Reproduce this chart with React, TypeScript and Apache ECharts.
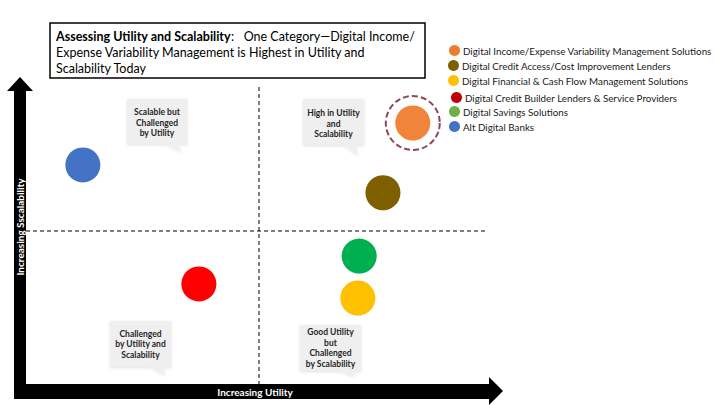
import React, { useEffect, useRef } from "react";
import * as echarts from "echarts";

// ---- data ----
const categories = [
  "Digital Income/Expense Variability Management Solutions",
  "Digital Credit Access/Cost Improvement Lenders",
  "Digital Financial & Cash Flow Management Solutions",
  "Digital Credit Builder Lenders & Service Providers",
  "Digital Savings Solutions",
  "Alt Digital Banks",
];
const utility = [8.3, 7.66, 7.12, 3.71, 7.15, 1.22];
const scalability = [8.53, 6.25, 2.81, 3.27, 4.18, 7.16];
const bubbleColors = ["#f0843a", "#7f6000", "#ffc000", "#ff0000", "#00b050", "#4472c4"];
const legendColors = ["#ed7d31", "#7f6000", "#ffc000", "#c00000", "#70ad47", "#4472c4"];
const highlighted = [0];

const titleBold = "Assessing Utility and Scalability";
const titleLines = [
  ":   One Category\u2014Digital Income/",
  "Expense Variability Management is Highest in Utility and",
  "Scalability Today",
];
const xAxisLabel = "Increasing Utility";
const yAxisLabel = "Increasing Sscalability";
const quadrantLabels = [
  "Scalable but\nChallenged\nby Utility",
  "High in Utility\nand\nScalability",
  "Challenged\nby Utility and\nScalability",
  "Good Utility\nbut\nChallenged\nby Scalability",
];
const quadrantSplit = 5;
const axisMax = 10;

const FONT = "Lato, 'Open Sans', sans-serif";

export default function App() {
  const ref = useRef<HTMLDivElement>(null);
  useEffect(() => {
    if (!ref.current) return;
    const chart = echarts.init(ref.current, null, { renderer: "svg" });

    const gridL = 26, gridT = 78, gridW = 466, gridH = 306;
    const px = (v: number) => gridL + (v / axisMax) * gridW;
    const py = (v: number) => gridT + gridH - (v / axisMax) * gridH;

    const series: any[] = categories.map((name, i) => ({
      type: "scatter",
      name,
      symbol: "circle",
      symbolSize: 35,
      itemStyle: { color: bubbleColors[i], opacity: 1 },
      data: [[utility[i], scalability[i]]],
      z: 3,
    }));
    series.push({
      type: "scatter",
      name: "highlight",
      symbol: "circle",
      symbolSize: 54,
      silent: true,
      itemStyle: {
        color: "rgba(0,0,0,0)",
        borderColor: "#6e1a28",
        borderWidth: 2,
        borderType: [6, 3],
      },
      data: highlighted.map((i) => [utility[i], scalability[i]]),
      z: 2,
    });

    const legendPos = [
      [449, 45],
      [448, 60],
      [448, 75],
      [451, 92],
      [449, 106],
      [449, 121],
    ];
    const legends = categories.map((name, i) => ({
      show: true,
      left: legendPos[i][0],
      top: legendPos[i][1],
      orient: "vertical",
      icon: "circle",
      itemWidth: 11,
      itemHeight: 11,
      itemGap: 0,
      padding: 0,
      selectedMode: false,
      data: [{ name, itemStyle: { color: legendColors[i] } }],
      textStyle: { fontFamily: FONT, fontSize: 9.8, color: "#1a1a1a", padding: [0, 0, 0, -2] },
    }));

    // callouts: box [x0, y0, x1, y1], tail tip, tail base
    const callouts = [
      { box: [127, 99, 187, 144], tip: [181, 152], base: [166, 178], textY: [112, 123, 133] },
      { box: [303, 99, 364, 145], tip: [358, 155], base: [344, 356], textY: [113, 124, 134] },
      { box: [110, 321, 171, 367], tip: [165, 375], base: [151, 163], textY: [334, 344, 355] },
      { box: [300, 325, 361, 371], tip: [355, 377], base: [341, 353], textY: [332, 343, 353, 364] },
    ];

    const graphics: any[] = [];
    // quadrant dashed lines
    graphics.push({
      type: "line",
      shape: { x1: px(quadrantSplit), y1: 87, x2: px(quadrantSplit), y2: 384 },
      style: { stroke: "#000", lineWidth: 1, lineDash: [4, 3] },
      z: 1,
    });
    graphics.push({
      type: "line",
      shape: { x1: 26, y1: py(quadrantSplit), x2: 485, y2: py(quadrantSplit) },
      style: { stroke: "#000", lineWidth: 1, lineDash: [4, 3] },
      z: 1,
    });
    // callouts
    callouts.forEach((c, i) => {
      const [x0, y0, x1, y1] = c.box;
      graphics.push({
        type: "polygon",
        shape: {
          points: [
            [x0, y0], [x1, y0], [x1, y1], [c.base[1], y1], c.tip, [c.base[0], y1], [x0, y1],
          ],
        },
        style: { fill: "#efefef", shadowBlur: 3, shadowColor: "rgba(0,0,0,0.12)", shadowOffsetY: 1 },
        z: 2,
      });
      const lines = quadrantLabels[i].split("\n");
      lines.forEach((ln, j) => {
        graphics.push({
          type: "text",
          x: (x0 + x1) / 2,
          y: c.textY[j],
          style: {
            text: ln,
            fill: "#262626",
            font: `bold 8.5px ${FONT}`,
            align: "center",
            verticalAlign: "middle",
          },
          z: 3,
        });
      });
    });
    // axes arrows
    graphics.push({ type: "rect", shape: { x: 14, y: 89, width: 12, height: 310 }, style: { fill: "#000" }, z: 4 });
    graphics.push({ type: "polygon", shape: { points: [[7, 91], [20, 77], [33, 91]] }, style: { fill: "#000" }, z: 4 });
    graphics.push({ type: "rect", shape: { x: 14, y: 384, width: 476, height: 15 }, style: { fill: "#000" }, z: 4 });
    graphics.push({ type: "polygon", shape: { points: [[489, 377], [503, 391], [489, 405]] }, style: { fill: "#000" }, z: 4 });
    graphics.push({
      type: "text",
      x: 255,
      y: 392,
      style: { text: xAxisLabel, fill: "#fff", font: `bold 10px ${FONT}`, align: "center", verticalAlign: "middle" },
      z: 5,
    });
    graphics.push({
      type: "text",
      x: 20,
      y: 227,
      rotation: Math.PI / 2,
      style: { text: yAxisLabel, fill: "#fff", font: `bold 10px ${FONT}`, align: "center", verticalAlign: "middle" },
      z: 5,
    });
    // title box
    graphics.push({
      type: "rect",
      shape: { x: 50, y: 23, width: 375, height: 55 },
      style: { fill: "#fff", stroke: "#000", lineWidth: 1.5 },
      z: 4,
    });
    graphics.push({
      type: "text",
      x: 56,
      y: 36,
      style: {
        text: `{b|${titleBold}}${titleLines[0]}`,
        font: `12.5px ${FONT}`,
        fill: "#000",
        verticalAlign: "middle",
        rich: { b: { fontWeight: "bold", fontSize: 12.5, fontFamily: FONT, fill: "#000" } },
      },
      z: 5,
    });
    [1, 2].forEach((k) => {
      graphics.push({
        type: "text",
        x: 56,
        y: 36 + 16 * k,
        style: { text: titleLines[k], font: `12.5px ${FONT}`, fill: "#000", verticalAlign: "middle" },
        z: 5,
      });
    });

    chart.setOption({
      animation: false,
      backgroundColor: "#fff",
      grid: { left: gridL, top: gridT, width: gridW, height: gridH },
      xAxis: { type: "value", min: 0, max: axisMax, show: false },
      yAxis: { type: "value", min: 0, max: axisMax, show: false },
      legend: legends,
      series,
      graphic: graphics,
    });
    return () => chart.dispose();
  }, []);
  return (
    <div
      ref={ref}
      style={{ position: "fixed", left: 0, top: 0, width: 720, height: 405 }}
    />
  );
}
